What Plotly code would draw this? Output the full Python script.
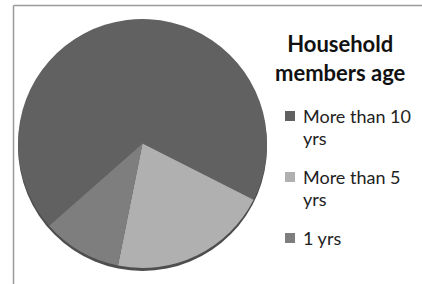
import plotly.graph_objects as go

categories = ["More than 10 yrs", "More than 5 yrs", "1 yrs"]
legend_lines = [["More than 10", "yrs"], ["More than 5", "yrs"], ["1 yrs"]]
values = [20, 6, 3]
colors = ["#616161", "#b0b0b0", "#7e7e7e"]
legend_title = "Household<br>members age"

W, H = 422, 284
px = lambda x: x / W
py = lambda y: 1 - y / H

pie_dom = dict(x=[px(17), px(268)], y=[py(268), py(19)])
edge_dom = dict(x=[px(17), px(268)], y=[py(271), py(22)])

fig = go.Figure()
# 3D-ish bottom edge behind the pie
fig.add_trace(go.Pie(
    labels=["edge"], values=[1], sort=False, textinfo="none", hoverinfo="skip",
    marker=dict(colors=["#4e4e4e"], line=dict(width=0)),
    domain=edge_dom, showlegend=False,
))
fig.add_trace(go.Pie(
    labels=categories,
    values=values,
    sort=False,
    direction="clockwise",
    rotation=228.6,
    textinfo="none",
    hoverinfo="label+percent",
    marker=dict(colors=colors, line=dict(width=0)),
    domain=pie_dom,
    showlegend=False,
))

annotations = [dict(text="<b>" + legend_title + "</b>", xref="paper", yref="paper",
                     x=px(340), y=py(57.5), xanchor="center", yanchor="middle",
                     showarrow=False, font=dict(size=22, color="#111"))]
shapes = [
    dict(type="line", xref="paper", yref="paper", x0=px(13.5), x1=1.02, y0=py(5.5), y1=py(5.5),
         line=dict(color="#9a9a9a", width=1.5)),
    dict(type="line", xref="paper", yref="paper", x0=px(13.5), x1=px(13.5), y0=py(5.5), y1=-0.02,
         line=dict(color="#9a9a9a", width=1.5)),
]

first_y = 116
item_step = 61
line_step = 22
for i, (lines, col) in enumerate(zip(legend_lines, colors)):
    yc = first_y + i * item_step
    shapes.append(dict(type="rect", xref="paper", yref="paper",
                       x0=px(285), x1=px(295), y0=py(yc + 5), y1=py(yc - 5),
                       fillcolor=col, line=dict(width=0)))
    for j, t in enumerate(lines):
        annotations.append(dict(text=t, xref="paper", yref="paper",
                                x=px(301), y=py(yc + j * line_step), xanchor="left", yanchor="middle",
                                showarrow=False, font=dict(size=18, color="#222")))

fig.update_layout(
    width=W, height=H,
    margin=dict(l=0, r=0, t=0, b=0),
    paper_bgcolor="white",
    font=dict(family="Lato, Open Sans, sans-serif", size=15, color="#222"),
    showlegend=False,
    shapes=shapes,
    annotations=annotations,
)

fig.write_html("out.html", config={"displayModeBar": False},
               post_script="document.body.style.margin='0';document.body.style.overflow='hidden';")
